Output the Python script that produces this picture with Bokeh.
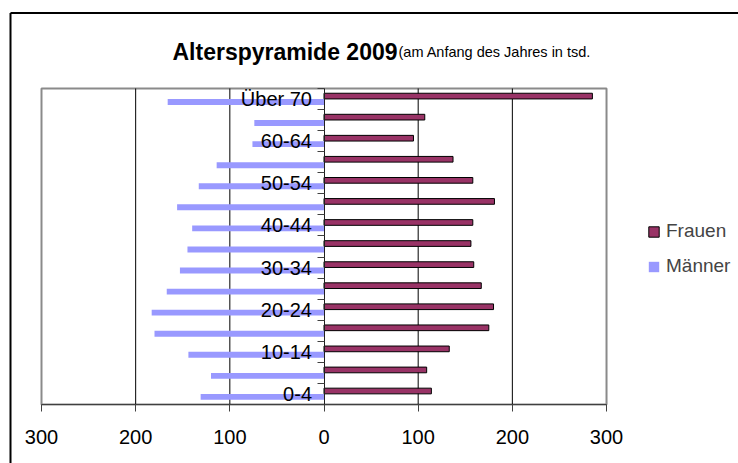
from bokeh.plotting import figure
from bokeh.models import Range1d, LinearAxis, FixedTicker, Legend, LegendItem
from bokeh.core.properties import value
from bokeh.embed import file_html
from bokeh.resources import INLINE

categories = ["0-4", "5-9", "10-14", "15-19", "20-24", "25-29", "30-34", "35-39",
              "40-44", "45-49", "50-54", "55-59", "60-64", "65-69", "Über 70"]
frauen = [114, 109, 133, 175, 180, 167, 159, 156, 158, 181, 158, 137, 95, 107, 285]
maenner = [131, 120, 144, 180, 183, 167, 153, 145, 140, 156, 133, 114, 76, 74, 166]
xtick_values = [-300, -200, -100, 0, 100, 200, 300]
xtick_labels = ["300", "200", "100", "0", "100", "200", "300"]
grid_values = [-200, -100, 100, 200]

n = len(categories)
centers = [i + 0.5 for i in range(n)]
y_fr = [c + 0.14 for c in centers]
y_ma = [c - 0.14 for c in centers]
maenner_neg = [-v for v in maenner]

# frame covers the whole canvas; the plot area (-300..300 x 0..n) sits inside it
p = figure(frame_width=738, frame_height=463,
           min_border_left=0, min_border_top=0, min_border_right=0, min_border_bottom=0,
           x_range=Range1d(-343.54, 440.15), y_range=Range1d(-2.801, 19.177),
           x_axis_location=None, y_axis_location=None,
           output_backend="svg", toolbar_location=None, title=None)
p.background_fill_color = "white"
p.border_fill_color = "white"
p.outline_line_color = None
p.xgrid.visible = False
p.ygrid.visible = False

# outer chart box (top and left edges visible)
p.segment(x0=[-332.92, -332.92], y0=[-3, 18.584], x1=[-332.92, 450], y1=[18.584, 18.584],
          line_color="#000000", line_width=2)

# plot area border
p.quad(left=[-300], right=[300], bottom=[0], top=[n], fill_color=None,
       line_color="#8a8a8a", line_width=2)

# vertical grid lines
p.segment(x0=grid_values, y0=[0] * len(grid_values), x1=grid_values, y1=[n] * len(grid_values),
          line_color="#000000", line_width=1)

# bars
r_ma = p.hbar(y=y_ma, left=0, right=maenner_neg, height=0.28,
              fill_color="#9999FF", line_color=None)
r_fr = p.hbar(y=y_fr, left=0, right=frauen, height=0.27,
              fill_color="#993366", line_color="#000000", line_width=1)

# x axis along the bottom of the plot area
xa = LinearAxis(fixed_location=0, bounds=(-300, 300),
                ticker=FixedTicker(ticks=xtick_values, minor_ticks=[]),
                major_label_overrides={v: l for v, l in zip(xtick_values, xtick_labels)})
xa.major_tick_out = 7
xa.major_tick_in = 0
xa.minor_tick_out = 0
xa.minor_tick_in = 0
xa.axis_line_color = "#404040"
xa.major_tick_line_color = "#404040"
xa.major_label_text_font = "Liberation Sans"
xa.major_label_text_font_size = "20px"
xa.major_label_text_color = "#000000"
xa.major_label_standoff = 19
p.add_layout(xa, "below")

# y axis at x = 0
ya = LinearAxis(fixed_location=0, bounds=(0, n),
                ticker=FixedTicker(ticks=centers[::2], minor_ticks=list(range(n + 1))),
                major_label_overrides={c: l for c, l in zip(centers[::2], categories[::2])})
ya.major_tick_out = 0
ya.major_tick_in = 0
ya.minor_tick_out = 7
ya.minor_tick_in = 0
ya.axis_line_color = "#202020"
ya.minor_tick_line_color = "#404040"
ya.major_label_text_font = "Liberation Sans"
ya.major_label_text_font_size = "20px"
ya.major_label_text_color = "#000000"
ya.major_label_standoff = 5
p.add_layout(ya, "left")

# titles
p.text(x=[-160.9], y=[16.709], text=["Alterspyramide 2009"],
       text_font=value("Liberation Sans"), text_font_style="bold",
       text_font_size="23px", text_color="#000000", text_baseline="alphabetic")
p.text(x=[79.1], y=[16.756], text=["(am Anfang des Jahres in tsd."],
       text_font=value("Liberation Sans"), text_font_size="14.5px",
       text_color="#000000", text_baseline="alphabetic")

legend = Legend(items=[LegendItem(label="Frauen", renderers=[r_fr]),
                       LegendItem(label="Männer", renderers=[r_ma])],
                location=(647, 186), orientation="vertical")
legend.label_text_font = "Liberation Sans"
legend.label_text_font_size = "19px"
legend.label_height = 20
legend.glyph_width = 13
legend.glyph_height = 13
legend.spacing = 13
legend.label_standoff = 6
legend.padding = 0
legend.margin = 0
legend.border_line_color = None
legend.background_fill_alpha = 0
p.add_layout(legend)

open("out.html", "w").write(file_html(p, INLINE))
